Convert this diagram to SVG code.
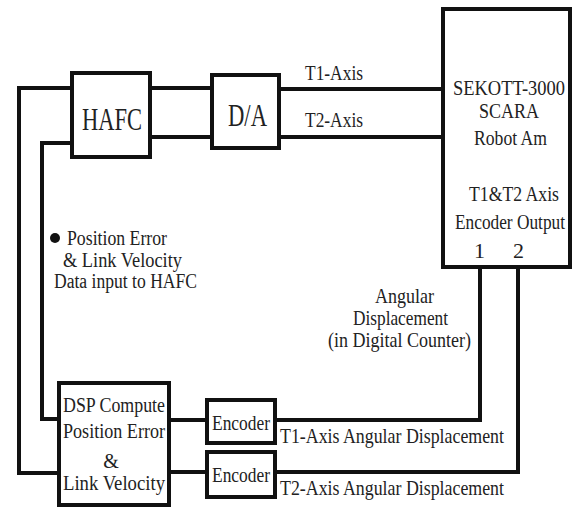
<svg xmlns="http://www.w3.org/2000/svg" width="573" height="508" viewBox="0 0 573 508">
<style>
.box{fill:#fff;stroke:#111;stroke-width:4}
.ln{fill:none;stroke:#111;stroke-width:4}
text{font-family:"Liberation Serif","Times New Roman",serif;fill:#222;font-size:22px}
.big{font-size:32px}
.sm{font-size:20px}
.md{font-size:21px}
</style>
<rect width="573" height="508" fill="#fff"/>
<g id="connectors">
<path class="ln" d="M72 88 H19 V473 H59"/>
<path class="ln" d="M72 143 H42 V419 H59"/>
<path class="ln" d="M150 88 H212"/>
<path class="ln" d="M150 137 H212"/>
<path class="ln" d="M279 89 H443"/>
<path class="ln" d="M279 137 H443"/>
<path class="ln" d="M169 420 H207"/>
<path class="ln" d="M169 472 H207"/>
<path class="ln" d="M275 420 H480 V267"/>
<path class="ln" d="M275 472 H518 V267"/>
</g>
<g id="hafc">
<rect class="box" x="72" y="73" width="78" height="84"/>
<text class="big" x="82" y="130" textLength="60" lengthAdjust="spacingAndGlyphs">HAFC</text>
</g>
<g id="da">
<rect class="box" x="212" y="75" width="67" height="73"/>
<text class="big" x="228" y="126" textLength="39" lengthAdjust="spacingAndGlyphs">D/A</text>
</g>
<g id="robot">
<rect class="box" x="443" y="9" width="127" height="258"/>
<text transform="translate(453,95) scale(1,1.2)" style="font-size:18.2px" x="0" y="0" textLength="112" lengthAdjust="spacingAndGlyphs">SEKOTT-3000</text>
<text x="479" y="118" textLength="60" lengthAdjust="spacingAndGlyphs">SCARA</text>
<text x="474" y="145" textLength="73" lengthAdjust="spacingAndGlyphs">Robot Am</text>
<text transform="translate(469,201) scale(1,1.25)" style="font-size:17.5px" x="0" y="0" textLength="90" lengthAdjust="spacingAndGlyphs">T1&amp;T2 Axis</text>
<text transform="translate(455,229) scale(1,1.27)" style="font-size:17.3px" x="0" y="0" textLength="110" lengthAdjust="spacingAndGlyphs">Encoder Output</text>
<text x="474" y="258">1</text>
<text x="513" y="258">2</text>
</g>
<g id="dsp">
<rect class="box" x="59" y="383" width="110" height="122"/>
<text x="63" y="412" textLength="102" lengthAdjust="spacingAndGlyphs">DSP Compute</text>
<text x="63" y="438" textLength="102" lengthAdjust="spacingAndGlyphs">Position Error</text>
<text class="sm" x="111" y="468" text-anchor="middle">&amp;</text>
<text x="63" y="490" textLength="102" lengthAdjust="spacingAndGlyphs">Link Velocity</text>
</g>
<g id="encoder1">
<rect class="box" x="207" y="400" width="68" height="43"/>
<text x="212" y="430" textLength="58" lengthAdjust="spacingAndGlyphs">Encoder</text>
</g>
<g id="encoder2">
<rect class="box" x="207" y="452" width="68" height="45"/>
<text x="212" y="482" textLength="58" lengthAdjust="spacingAndGlyphs">Encoder</text>
</g>
<g id="labels">
<text x="305" y="80" textLength="58" lengthAdjust="spacingAndGlyphs">T1-Axis</text>
<text x="305" y="127" textLength="58" lengthAdjust="spacingAndGlyphs">T2-Axis</text>
<circle cx="55" cy="238" r="5" fill="#111"/>
<text class="sm" x="67" y="245" textLength="100" lengthAdjust="spacingAndGlyphs">Position Error</text>
<text class="sm" x="63" y="267" textLength="119" lengthAdjust="spacingAndGlyphs">&amp; Link Velocity</text>
<text class="sm" x="54" y="288" textLength="143" lengthAdjust="spacingAndGlyphs">Data input to HAFC</text>
<text class="md" x="375" y="303" textLength="59" lengthAdjust="spacingAndGlyphs">Angular</text>
<text class="md" x="353" y="325" textLength="95" lengthAdjust="spacingAndGlyphs">Displacement</text>
<text class="md" x="328" y="347" textLength="143" lengthAdjust="spacingAndGlyphs">(in Digital Counter)</text>
<text x="280" y="443" textLength="224" lengthAdjust="spacingAndGlyphs">T1-Axis Angular Displacement</text>
<text x="280" y="495" textLength="224" lengthAdjust="spacingAndGlyphs">T2-Axis Angular Displacement</text>
</g>
</svg>
